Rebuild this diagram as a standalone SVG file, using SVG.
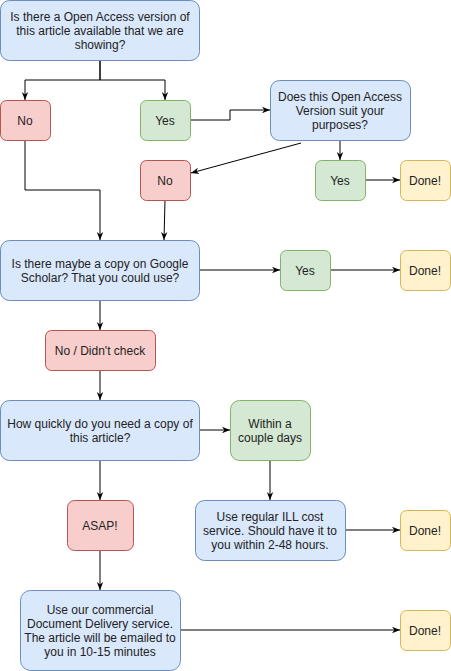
<svg xmlns="http://www.w3.org/2000/svg" width="451" height="671" viewBox="0 0 451 671">
<defs>
<marker id="arr" viewBox="0 0 10 10" refX="10" refY="5" markerWidth="8" markerHeight="8" markerUnits="userSpaceOnUse" orient="auto">
<path d="M0,1 L10,5 L0,9 L3,5 Z" fill="#000"/>
</marker>
<style>
.b{fill:#dae8fc;stroke:#6c8ebf}
.r{fill:#f8cecc;stroke:#b85450}
.g{fill:#d5e8d4;stroke:#82b366}
.y{fill:#fff2cc;stroke:#d6b656}
rect{stroke-width:1}
text{font-family:"Liberation Sans",Arial,sans-serif;font-size:12px;fill:#222;text-anchor:middle}
.c{fill:none;stroke:#000;stroke-width:1;marker-end:url(#arr)}
</style>
</defs>
<rect width="451" height="671" fill="#fff"/>
<g id="connectors">
<path class="c" d="M100,60 V80 H25 V100"/>
<path class="c" d="M100,60 V80 H165 V100"/>
<path class="c" d="M190,120 H230 V110 H270"/>
<path class="c" d="M301,143 L191,173"/>
<path class="c" d="M340,140 V160"/>
<path class="c" d="M365,180 H400"/>
<path class="c" d="M25,140 V190 H100 V240"/>
<path class="c" d="M165,200 L164,240"/>
<path class="c" d="M200,270 H280"/>
<path class="c" d="M330,270 H400"/>
<path class="c" d="M100,300 V330"/>
<path class="c" d="M100,370 V400"/>
<path class="c" d="M200,430 H230"/>
<path class="c" d="M100,460 V500"/>
<path class="c" d="M270,460 V500"/>
<path class="c" d="M345,530 H400"/>
<path class="c" d="M100,550 V590"/>
<path class="c" d="M180,630 H400"/>
</g>
<g id="q1"><rect class="b" x="0.5" y="0.5" width="199" height="60" rx="9"/>
<text x="100" y="21">Is there a Open Access version of</text><text x="100" y="35">this article available that we are</text><text x="100" y="49">showing?</text></g>
<g id="no1"><rect class="r" x="0.5" y="100.5" width="50" height="40" rx="6"/><text x="25" y="125">No</text></g>
<g id="yes1"><rect class="g" x="140.5" y="100.5" width="50" height="40" rx="6"/><text x="165" y="125">Yes</text></g>
<g id="q2"><rect class="b" x="270.5" y="80.5" width="140" height="60" rx="9"/>
<text x="340" y="101">Does this Open Access</text><text x="340" y="115">Version suit your</text><text x="340" y="129">purposes?</text></g>
<g id="no2"><rect class="r" x="140.5" y="160.5" width="50" height="40" rx="6"/><text x="165" y="185">No</text></g>
<g id="yes2"><rect class="g" x="315.5" y="160.5" width="50" height="40" rx="6"/><text x="340" y="185">Yes</text></g>
<g id="done1"><rect class="y" x="400.5" y="160.5" width="50" height="40" rx="6"/><text x="425" y="185">Done!</text></g>
<g id="q3"><rect class="b" x="0.5" y="240.5" width="199" height="60" rx="9"/>
<text x="100" y="268">Is there maybe a copy on Google</text><text x="100" y="282">Scholar? That you could use?</text></g>
<g id="yes3"><rect class="g" x="280.5" y="250.5" width="50" height="40" rx="6"/><text x="305" y="275">Yes</text></g>
<g id="done2"><rect class="y" x="400.5" y="250.5" width="50" height="40" rx="6"/><text x="425" y="275">Done!</text></g>
<g id="no3"><rect class="r" x="45.5" y="330.5" width="110" height="40" rx="6"/><text x="100" y="355">No / Didn't check</text></g>
<g id="q4"><rect class="b" x="0.5" y="400.5" width="199" height="60" rx="9"/>
<text x="100" y="428">How quickly do you need a copy of</text><text x="100" y="442">this article?</text></g>
<g id="within"><rect class="g" x="230.5" y="400.5" width="80" height="60" rx="9"/>
<text x="270" y="428">Within a</text><text x="270" y="442">couple days</text></g>
<g id="asap"><rect class="r" x="67.5" y="500.5" width="66" height="50" rx="7"/><text x="100" y="530">ASAP!</text></g>
<g id="ill"><rect class="b" x="195.5" y="500.5" width="150" height="60" rx="9"/>
<text x="270" y="521">Use regular ILL cost</text><text x="270" y="535">service. Should have it to</text><text x="270" y="549">you within 2-48 hours.</text></g>
<g id="done3"><rect class="y" x="400.5" y="510.5" width="50" height="40" rx="6"/><text x="425" y="535">Done!</text></g>
<g id="cdd"><rect class="b" x="20.5" y="590.5" width="160" height="80" rx="10"/>
<text x="100" y="614">Use our commercial</text><text x="100" y="628">Document Delivery service.</text><text x="100" y="642">The article will be emailed to</text><text x="100" y="656">you in 10-15 minutes</text></g>
<g id="done4"><rect class="y" x="400.5" y="610.5" width="50" height="40" rx="6"/><text x="425" y="635">Done!</text></g>
</svg>
